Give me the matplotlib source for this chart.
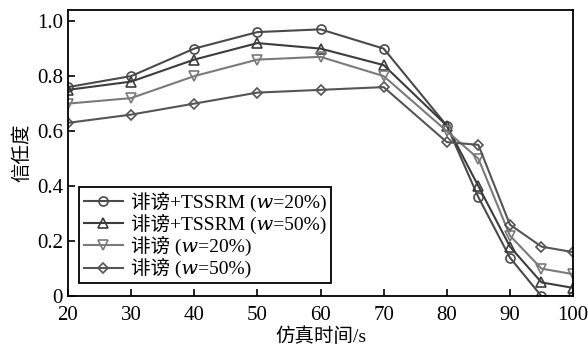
import numpy as np
import matplotlib
matplotlib.use('Agg')
import matplotlib.pyplot as plt
from matplotlib.ticker import FuncFormatter

plt.rcParams['font.family'] = ['Liberation Serif', 'Noto Sans CJK SC', 'DejaVu Serif', 'DejaVu Sans']

x = [20, 30, 40, 50, 60, 70, 80, 85, 90, 95, 100]
tssrm_20 = [0.76, 0.80, 0.90, 0.96, 0.97, 0.90, 0.62, 0.36, 0.14, 0.00, 0.00]
tssrm_50 = [0.75, 0.78, 0.86, 0.92, 0.90, 0.84, 0.62, 0.40, 0.18, 0.05, 0.03]
slander_20 = [0.70, 0.72, 0.80, 0.86, 0.87, 0.80, 0.60, 0.50, 0.22, 0.10, 0.08]
slander_50 = [0.63, 0.66, 0.70, 0.74, 0.75, 0.76, 0.56, 0.55, 0.26, 0.18, 0.16]

# italic w via the unicode maths italic letter
labels = ['诽谤+TSSRM (\U0001D464=20%)', '诽谤+TSSRM (\U0001D464=50%)',
          '诽谤 (\U0001D464=20%)', '诽谤 (\U0001D464=50%)']
series = [tssrm_20, tssrm_50, slander_20, slander_50]
markers = ['o', '^', 'v', 'D']
colors = ['#4a4a4a', '#3c3c3c', '#7a7a7a', '#555555']
sizes = [6.5, 6.5, 6.5, 5.5]

fig = plt.figure(figsize=(5.88, 3.48), dpi=100)
ax = fig.add_axes([0.1156, 0.149, 0.859, 0.822])

for y, m, c, lab, s in zip(series, markers, colors, labels, sizes):
    ax.plot(x, y, marker=m, color=c, markerfacecolor='none', markeredgecolor=c,
            markersize=s, markeredgewidth=1.2, linewidth=1.5, label=lab)

ax.set_xlim(20, 100)
ax.set_ylim(0, 1.04)
ax.set_xticks([20, 30, 40, 50, 60, 70, 80, 90, 100])
ax.set_yticks([0, 0.2, 0.4, 0.6, 0.8, 1.0])
ax.yaxis.set_major_formatter(FuncFormatter(lambda v, p: '0' if v == 0 else '%.1f' % v))
ax.tick_params(direction='in', labelsize=15, length=5, width=1.2)
ax.tick_params(axis='x', pad=7)
for sp in ax.spines.values():
    sp.set_linewidth(1.3)

ax.set_xlabel('仿真时间/s', fontsize=14, labelpad=2)
ax.set_ylabel('信任度', fontsize=14, labelpad=4)

leg = ax.legend(loc='lower left', bbox_to_anchor=(0.022, 0.045), fontsize=14,
                fancybox=False, edgecolor='black', framealpha=1,
                handlelength=2.0, handletextpad=0.4, borderpad=0.25,
                labelspacing=0.1, borderaxespad=0)
leg.get_frame().set_linewidth(1.3)

fig.savefig('out.png', dpi=100)
